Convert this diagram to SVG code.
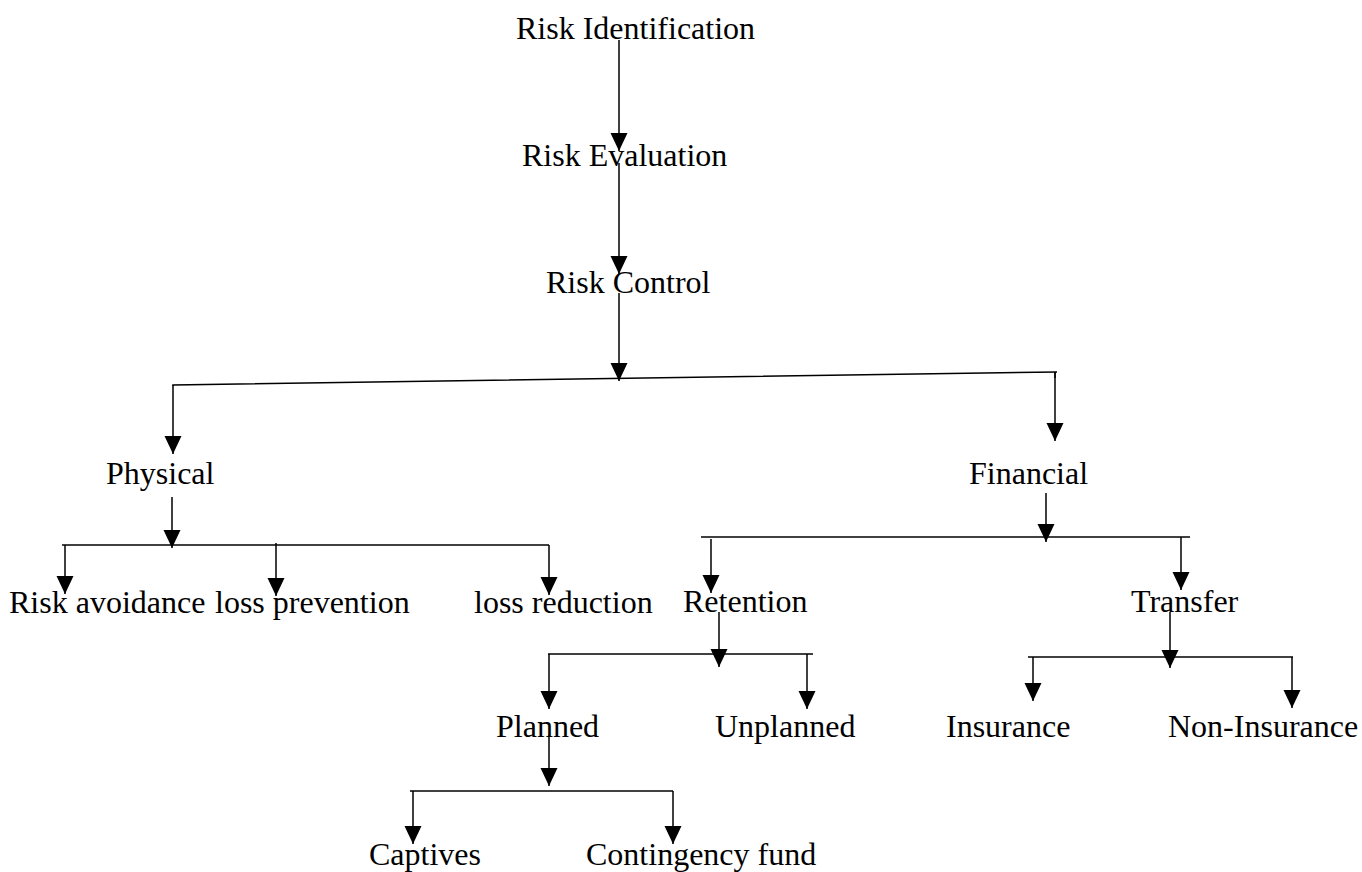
<svg xmlns="http://www.w3.org/2000/svg" width="1362" height="872" viewBox="0 0 1362 872">
<style>
text{font-family:"Liberation Serif","Times New Roman",serif;font-size:32px;fill:#000}
.c line,.c polyline{stroke:#000;stroke-width:1.5;fill:none}
.a{marker-end:url(#ah)}
</style>
<defs>
<marker id="ah" markerUnits="userSpaceOnUse" viewBox="0 -10 20 20" markerWidth="20" markerHeight="20" refX="18" refY="0" orient="auto">
<path d="M0,-8.5 L18,0 L0,8.5 z" fill="#000"/>
</marker>
</defs>
<rect width="1362" height="872" fill="#fff"/>
<g class="c" id="connectors">
<line class="a" x1="619" y1="40" x2="619" y2="151"/>
<line class="a" x1="619" y1="163" x2="619" y2="274"/>
<line class="a" x1="619" y1="293" x2="619" y2="381"/>
<polyline points="173,386 173,385 1057,372"/>
<line x1="1055" y1="372" x2="1055" y2="378"/>
<line class="a" x1="173" y1="385" x2="173" y2="454"/>
<line class="a" x1="1055" y1="372" x2="1055" y2="441"/>
<line class="a" x1="172" y1="497" x2="172" y2="548"/>
<line x1="62" y1="545" x2="549" y2="545"/>
<line class="a" x1="65" y1="545" x2="65" y2="594"/>
<line class="a" x1="276" y1="543" x2="276" y2="596"/>
<line class="a" x1="549" y1="545" x2="549" y2="595"/>
<line class="a" x1="1046" y1="493" x2="1046" y2="542"/>
<line x1="701" y1="537" x2="1190" y2="537"/>
<line class="a" x1="711" y1="539" x2="711" y2="593"/>
<line class="a" x1="1181" y1="537" x2="1181" y2="590"/>
<line class="a" x1="719" y1="612" x2="719" y2="667"/>
<line x1="548" y1="654" x2="813" y2="654"/>
<line class="a" x1="549" y1="654" x2="549" y2="709"/>
<line class="a" x1="807" y1="654" x2="807" y2="709"/>
<line class="a" x1="1170" y1="612" x2="1170" y2="668"/>
<line x1="1028" y1="657" x2="1293" y2="657"/>
<line class="a" x1="1033" y1="657" x2="1033" y2="701"/>
<line class="a" x1="1292" y1="657" x2="1292" y2="708"/>
<line class="a" x1="549" y1="735" x2="549" y2="786"/>
<line x1="410" y1="791" x2="673" y2="791"/>
<line class="a" x1="413" y1="791" x2="413" y2="844"/>
<line class="a" x1="673" y1="791" x2="673" y2="844"/>
</g>
<g id="n-identification"><text x="516" y="39">Risk Identification</text></g>
<g id="n-evaluation"><text x="522" y="166">Risk Evaluation</text></g>
<g id="n-control"><text x="546" y="293">Risk Control</text></g>
<g id="n-physical"><text x="106" y="484">Physical</text></g>
<g id="n-financial"><text x="969" y="484">Financial</text></g>
<g id="n-avoidance"><text x="9" y="613">Risk avoidance</text></g>
<g id="n-prevention"><text x="215" y="613">loss prevention</text></g>
<g id="n-reduction"><text x="474" y="613">loss reduction</text></g>
<g id="n-retention"><text x="683" y="612">Retention</text></g>
<g id="n-transfer"><text x="1131" y="612">Transfer</text></g>
<g id="n-planned"><text x="496" y="737">Planned</text></g>
<g id="n-unplanned"><text x="715" y="737">Unplanned</text></g>
<g id="n-insurance"><text x="946" y="737">Insurance</text></g>
<g id="n-noninsurance"><text x="1168" y="737">Non-Insurance</text></g>
<g id="n-captives"><text x="369" y="865">Captives</text></g>
<g id="n-contingency"><text x="586" y="865">Contingency fund</text></g>
</svg>
